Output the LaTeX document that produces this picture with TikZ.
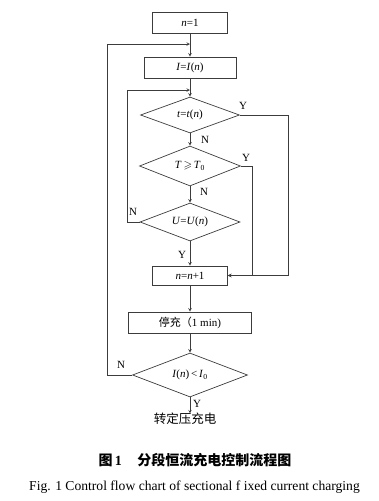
\documentclass[tikz,border=0pt]{standalone}
\usepackage{fontspec}
\usepackage{amssymb}
\setmainfont{Liberation Serif}
\newfontfamily\cjk{Noto Sans CJK SC}
\usepackage{tikz}
\usetikzlibrary{shapes.geometric, arrows, positioning, calc}
\definecolor{flowline}{RGB}{60, 60, 60}

\tikzset{
    stepbox/.style={draw=flowline, line width=0.7pt, inner sep=0pt, minimum height=21pt, font=\fontsize{11}{13}\selectfont},
    testbox/.style={draw=flowline, line width=0.7pt, diamond, aspect=2.6, inner sep=0pt, font=\fontsize{11}{13}\selectfont},
    flow/.style={draw=flowline, line width=0.6pt, -stealth},
    tag/.style={font=\fontsize{11}{13}\selectfont, inner sep=0pt}
}

\begin{document}
\begin{tikzpicture}[x=1pt, y=-1pt]
    \useasboundingbox (0,0) rectangle (379,501);

    % main chain
    \node[stepbox, minimum width=75pt] (start) at (190,22.5) {\textit{n}=1};
    \node[stepbox, minimum width=92pt] (setI) at (190,67.5) {\textit{I}=\textit{I}(\textit{n})};
    \node[testbox, minimum width=99pt, minimum height=36pt] (tst) at (190,115) {\textit{t}=\textit{t}(\textit{n})};
    \node[testbox, minimum width=101pt, minimum height=40pt] (tmp) at (190,166) {\textit{T}\,$\geqslant$\,\textit{T}\textsubscript{0}};
    \node[testbox, minimum width=100pt, minimum height=38pt] (volt) at (190,222) {\textit{U}=\textit{U}(\textit{n})};
    \node[stepbox, minimum width=75pt, minimum height=19pt] (inc) at (190,275.5) {\textit{n}=\textit{n}+1};
    \node[stepbox, minimum width=123pt] (rest) at (190,322.5) {{\cjk 停充（}1 min)};
    \node[testbox, minimum width=115pt, minimum height=44pt] (curr) at (190,375) {\textit{I}(\textit{n})\,<\,\textit{I}\textsubscript{0}};
    \node[tag, font=\fontsize{12.5}{14}\cjk] (cv) at (185,418.5) {转定压充电};

    % junctions on the main line
    \coordinate (j1) at (190,44);
    \coordinate (j2) at (190,90);

    \draw[flow] (start) -- (setI);
    \draw[flow] (setI) -- (tst);
    \draw[flow] (tst) -- (tmp);
    \draw[flow] (tmp) -- (volt);
    \draw[flow] (volt) -- (inc);
    \draw[flow] (inc) -- (rest);
    \draw[flow] (rest) -- (curr);
    \draw[flow] (curr) -- ([yshift=-1pt]curr |- cv.north);

    % Y branches to n=n+1
    \draw[flow] (tst.east) -- (288,115) |- (inc.east);
    \draw[flow] (tmp.east) -- (252,166) |- (inc.east);

    % N loops
    \draw[flow] (volt.west) -- (127,222) |- (j2);
    \draw[flow] (curr.west) -- (107,375) |- (j1);

    % labels
    \node[tag] at (243,106) {Y};
    \node[tag] at (246,158) {Y};
    \node[tag] at (205,140) {N};
    \node[tag] at (204,192) {N};
    \node[tag] at (133,212) {N};
    \node[tag] at (182,255) {Y};
    \node[tag] at (121,365) {N};
    \node[tag] at (197,403.5) {Y};

    % caption
    \node[tag, font=\fontsize{14}{16}\selectfont\cjk\bfseries] (cap) at (195,460) {图\,{\rmfamily\bfseries 1}\hspace{1.1em}分段恒流充电控制流程图};
    \node[tag, font=\fontsize{13.6}{16}\selectfont] (capen) at (194.5,487) {Fig. 1 Control flow chart of sectional f ixed current charging};
\end{tikzpicture}
\end{document}
